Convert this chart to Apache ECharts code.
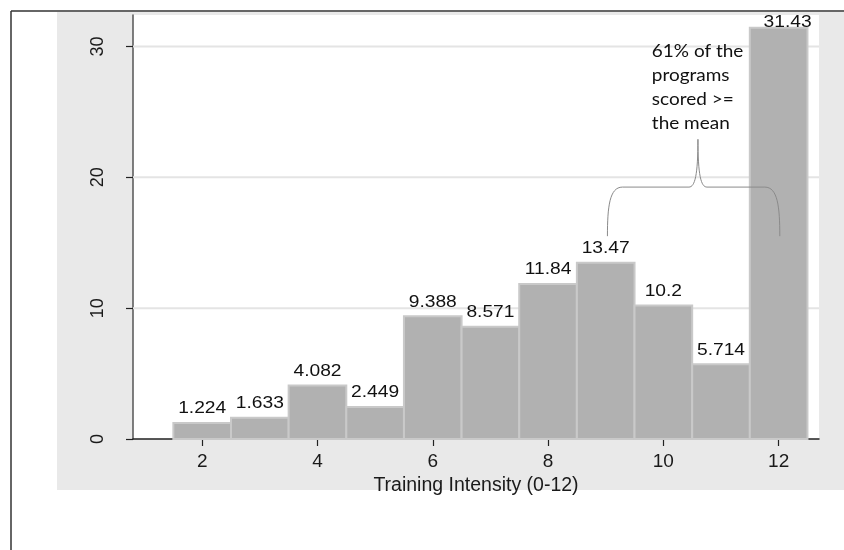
<!DOCTYPE html>
<html>
<head>
<meta charset="utf-8">
<script src="https://cdn.jsdelivr.net/npm/echarts@6/dist/echarts.min.js"></script>
<style>
html,body{margin:0;padding:0;background:#fff;}
#chart{width:844px;height:550px;}
</style>
</head>
<body>
<div id="chart"></div>
<script>
var intensity = [2, 3, 4, 5, 6, 7, 8, 9, 10, 11, 12];
var percent = [1.224, 1.633, 4.082, 2.449, 9.388, 8.571, 11.84, 13.47, 10.2, 5.714, 31.43];
var percentLabels = ['1.224', '1.633', '4.082', '2.449', '9.388', '8.571', '11.84', '13.47', '10.2', '5.714', '31.43'];
var xTicks = [2, 4, 6, 8, 10, 12];
var yTicks = [0, 10, 20, 30];
var annotationLines = ['61% of the', 'programs', 'scored >=', 'the mean'];

var data = intensity.map(function (x, i) { return [x, percent[i]]; });

var chart = echarts.init(document.getElementById('chart'), null, {renderer: 'canvas'});
var FONT = '"Liberation Sans", Arial, sans-serif';

var option = {
  backgroundColor: '#ffffff',
  animation: false,
  grid: {left: 133, right: 25, top: 15, bottom: 111, containLabel: false},
  xAxis: {
    type: 'value', min: 0.8, max: 12.7,
    name: 'Training Intensity (0-12)', nameLocation: 'middle', nameGap: 33,
    nameTextStyle: {fontFamily: FONT, fontSize: 19.5, color: '#1a1a1a'},
    axisLine: {show: true, onZero: false, lineStyle: {color: '#222', width: 1.5}},
    axisTick: {show: true, length: 7, customValues: xTicks, lineStyle: {color: '#222', width: 1.2}},
    axisLabel: {customValues: xTicks, margin: 13, fontFamily: FONT, fontSize: 19, color: '#1a1a1a'},
    splitLine: {show: false}
  },
  yAxis: {
    type: 'value', min: 0, max: 32.4,
    axisLine: {show: true, lineStyle: {color: '#555', width: 1.5}},
    axisTick: {show: true, length: 7, customValues: yTicks, lineStyle: {color: '#222', width: 1.2}},
    axisLabel: {customValues: yTicks, rotate: 90, margin: 26, fontFamily: FONT, fontSize: 18, color: '#1a1a1a'},
    splitLine: {show: false}
  },
  graphic: [
    {type: 'rect', z: -10, silent: true, shape: {x: 57, y: 12, width: 787, height: 478}, style: {fill: '#e9e9e9'}},
    {type: 'rect', z: -9, silent: true, shape: {x: 133, y: 15, width: 686, height: 424}, style: {fill: '#ffffff'}},
    {type: 'line', z: 10, silent: true, shape: {x1: 11, y1: 11, x2: 844, y2: 11}, style: {stroke: '#333', lineWidth: 1.5}},
    {type: 'line', z: 10, silent: true, shape: {x1: 11, y1: 11, x2: 11, y2: 550}, style: {stroke: '#333', lineWidth: 1.5}}
  ],
  series: [
    {
      type: 'custom', z: 1, silent: true,
      data: yTicks.filter(function (v) { return v > 0; }),
      renderItem: function (params, api) {
        var v = api.value(0);
        var l = api.coord([0.8, v]), r = api.coord([12.7, v]);
        return {type: 'line', shape: {x1: l[0], y1: l[1], x2: r[0], y2: r[1]},
                style: {stroke: '#e4e4e4', lineWidth: 2}};
      }
    },
    {
      type: 'custom',
      z: 3,
      data: data,
      encode: {x: 0, y: 1},
      renderItem: function (params, api) {
        var x = api.value(0), y = api.value(1);
        var p0 = api.coord([x - 0.5, y]);
        var p1 = api.coord([x + 0.5, 0]);
        var top = api.coord([x, y]);
        var lx = top[0], ly = top[1] - 6;
        if (ly < 31) { ly = 31; lx += 9; }
        return {
          type: 'group',
          children: [
            {
              type: 'rect',
              shape: {x: p0[0], y: p0[1], width: p1[0] - p0[0], height: p1[1] - p0[1]},
              style: {fill: '#b1b1b1', stroke: '#c9c9c9', lineWidth: 2}
            },
            {
              type: 'text',
              x: lx, y: ly, scaleX: 1.2,
              style: {text: percentLabels[params.dataIndex], fontFamily: FONT, fontSize: 16,
                      fill: '#111', align: 'center', verticalAlign: 'bottom'}
            }
          ]
        };
      }
    },
    {
      type: 'custom', z: 5, silent: true,
      data: [[10.5, 20]],
      renderItem: function (params, api) {
        var a = api.coord([9.03, 15.5]), b = api.coord([9.15, 19.25]),
            d = api.coord([10.6, 22.9]), g = api.coord([12.02, 15.5]);
        var hy = b[1];
        var path = 'M' + a[0] + ' ' + a[1] +
          ' C' + a[0] + ' ' + (hy + 20) + ' ' + (a[0] + 2) + ' ' + hy + ' ' + (a[0] + 15) + ' ' + hy +
          ' L' + (d[0] - 9) + ' ' + hy +
          ' C' + (d[0] - 3) + ' ' + hy + ' ' + d[0] + ' ' + (hy - 12) + ' ' + d[0] + ' ' + d[1] +
          ' C' + d[0] + ' ' + (hy - 12) + ' ' + (d[0] + 3) + ' ' + hy + ' ' + (d[0] + 9) + ' ' + hy +
          ' L' + (g[0] - 15) + ' ' + hy +
          ' C' + (g[0] - 2) + ' ' + hy + ' ' + g[0] + ' ' + (hy + 20) + ' ' + g[0] + ' ' + g[1];
        var t = api.coord([9.8, 30.5]);
        return {
          type: 'group',
          children: [
            {type: 'path', shape: {pathData: path}, style: {fill: null, stroke: '#8a8a8a', lineWidth: 1}},
            {type: 'text', x: t[0], y: t[1], scaleX: 1.15,
             style: {text: annotationLines.join('\n'), fontFamily: 'Lato, "Open Sans", sans-serif', fontSize: 16.5,
                     lineHeight: 24, fill: '#111', align: 'left', verticalAlign: 'top'}}
          ]
        };
      }
    }
  ]
};
chart.setOption(option);
</script>
</body>
</html>
